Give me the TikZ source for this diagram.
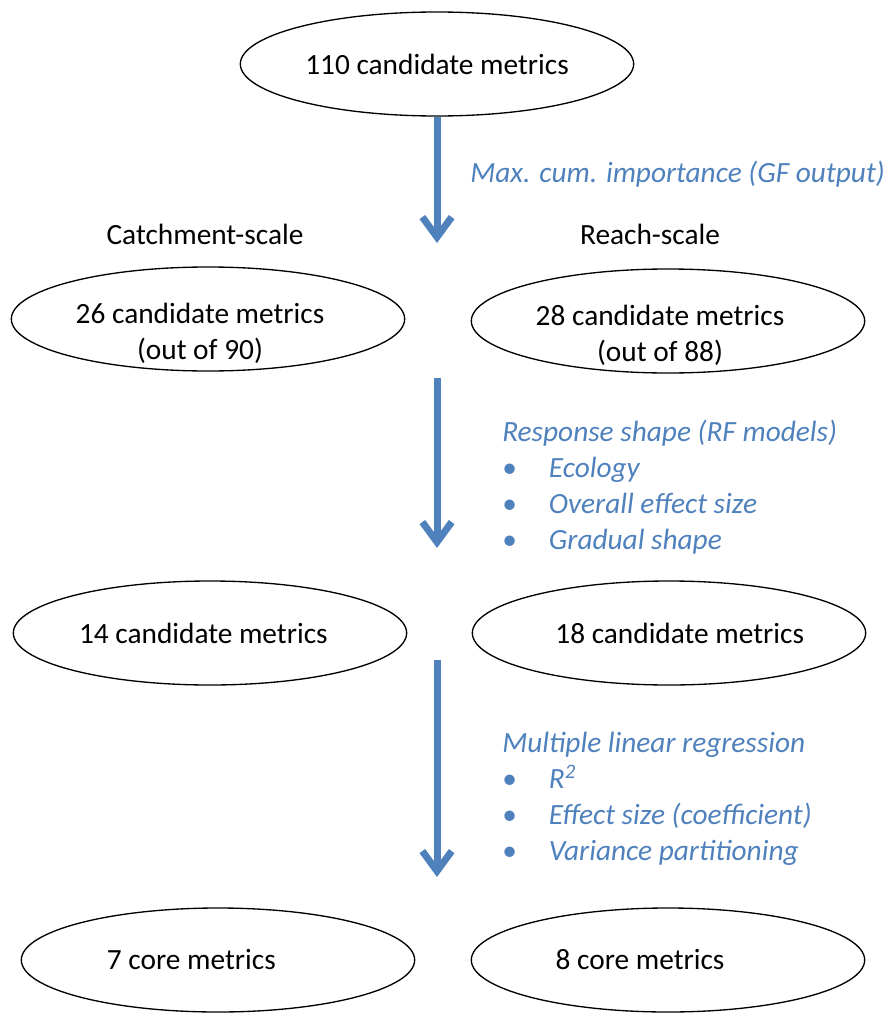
\documentclass[tikz,border=0pt]{standalone}
\usepackage{fontspec}
\setmainfont{Carlito}
\usetikzlibrary{shapes.geometric,arrows.meta}
\definecolor{flowblue}{RGB}{79,129,189}
\newcommand{\bitem}{\makebox[35pt][l]{\upshape\textbullet}}

\begin{document}
\begin{tikzpicture}[x=0.75pt, y=-0.75pt,
		every node/.style={font=\fontsize{22}{27}\selectfont, inner sep=0pt},
		every label/.style={align=center},
		metric/.style={draw, ellipse, line width=1pt, minimum width=295pt, minimum height=78pt, align=center},
		note/.style={text=flowblue, font=\fontsize{22}{27}\selectfont\itshape, align=left},
		flow/.style={draw=flowblue, line width=5.25pt, -{Straight Barb[length=15pt, width=22pt]}}]
		\useasboundingbox (0,0) rectangle (893,1017);

		\node[metric] (allMetrics) at (437,64) {110 candidate metrics};

		\node (catchLabel) at (205,234) {Catchment-scale};
		\node (reachLabel) at (650,234) {Reach-scale};

		\node[metric, label={[xshift=-6pt, yshift=-11pt]center:26 candidate metrics\\(out of 90)}] (catchFirst) at (208,319) {};
		\node[metric, label={[xshift=-6pt, yshift=-11pt]center:28 candidate metrics\\(out of 88)}] (reachFirst) at (668,321) {};

		\node[metric, label={[xshift=-5pt]center:14 candidate metrics}] (catchSecond) at (210,633) {};
		\node[metric, label={[xshift=8pt]center:18 candidate metrics}] (reachSecond) at (669,633) {};

		\node[metric, label={[xshift=-20pt]center:7 core metrics}] (catchCore) at (218,960) {};
		\node[metric, label={[xshift=-21pt]center:8 core metrics}] (reachCore) at (668,960) {};

		\node[note, anchor=base west] (gfNote) at (470,182) {Max. cum. importance (GF output)};
		\node[note, anchor=north west] (rfNote) at (502,420) {Response shape (RF models)\\
			\bitem Ecology\\
			\bitem Overall effect size\\
			\bitem Gradual shape};
		\node[note, anchor=north west] (mlrNote) at (502,732) {Multiple linear regression\\
			\bitem R\textsuperscript{2}\\
			\bitem Effect size (coefficient)\\
			\bitem Variance partitioning};

		\coordinate (gfEnd) at (437,243);
		\coordinate (rfStart) at (437,378);
		\coordinate (rfEnd) at (437,548);
		\coordinate (mlrStart) at (437,660);
		\coordinate (mlrEnd) at (437,877);

		\draw[flow] (allMetrics) -- (gfEnd);
		\draw[flow] (rfStart) -- (rfEnd);
		\draw[flow] (mlrStart) -- (mlrEnd);
	\end{tikzpicture}
\end{document}
